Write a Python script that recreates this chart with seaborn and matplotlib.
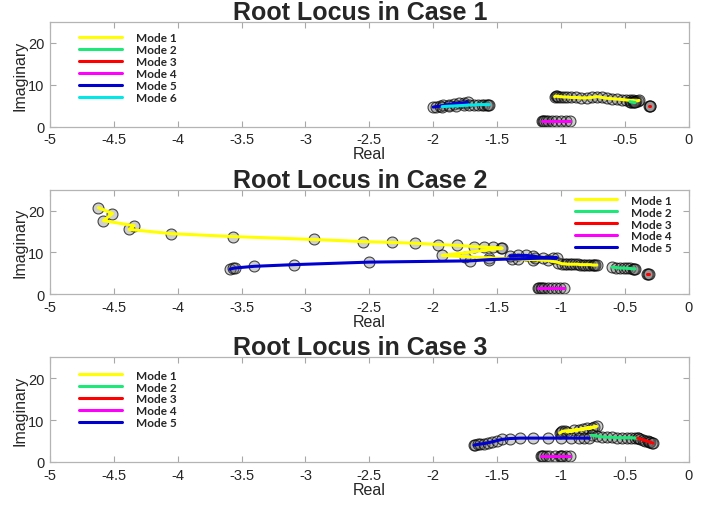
import pandas as pd
import matplotlib
matplotlib.use('Agg')
import matplotlib.pyplot as plt
import seaborn as sns

# ---- data (real part, imaginary part per mode) ----
modes = ['Mode 1', 'Mode 2', 'Mode 3', 'Mode 4', 'Mode 5', 'Mode 6']

# Case 1
c1_m1_re = [-1.05, -1.04, -1.03, -1.02, -1.00, -0.98, -0.95, -0.92, -0.88, -0.84, -0.80, -0.76, -0.72,
            -0.68, -0.64, -0.60, -0.56, -0.52, -0.49, -0.46, -0.44, -0.42, -0.41, -0.40, -0.39]
c1_m1_im = [7.2, 7.3, 7.3, 7.2, 7.2, 7.1, 7.1, 7.0, 7.0, 6.9, 6.9, 7.0, 7.2,
            7.0, 6.8, 6.7, 6.6, 6.5, 6.4, 6.3, 6.3, 6.2, 6.2, 6.2, 6.3]
c1_m2_re = [-0.46, -0.45, -0.44, -0.43, -0.42]
c1_m2_im = [6.0, 5.9, 5.9, 5.8, 5.8]
c1_m3_re = [-0.31, -0.30, -0.30]
c1_m3_im = [4.9, 4.9, 4.9]
c1_m4_re = [-1.15, -1.14, -1.13, -1.12, -1.10, -1.07, -1.04, -1.00, -0.96, -0.93]
c1_m4_im = [1.4, 1.4, 1.4, 1.4, 1.4, 1.4, 1.4, 1.4, 1.4, 1.4]
c1_m5_re = [-2.00, -1.98, -1.95, -1.92, -1.88, -1.84, -1.80, -1.76, -1.73]
c1_m5_im = [4.7, 4.8, 4.9, 5.1, 5.3, 5.5, 5.6, 5.7, 5.8]
c1_m6_re = [-1.93, -1.88, -1.82, -1.76, -1.72, -1.68, -1.65, -1.62, -1.60, -1.58, -1.57, -1.56]
c1_m6_im = [4.8, 4.9, 5.0, 5.1, 5.2, 5.2, 5.3, 5.3, 5.3, 5.3, 5.3, 5.3]

# Case 2
c2_m1_re = [-4.62, -4.51, -4.58, -4.34, -4.38, -4.05, -3.57, -2.93, -2.55, -2.32, -2.14, -1.96, -1.81, -1.68,
            -1.60, -1.53, -1.47, -1.46, -1.93, -1.75, -1.56, -1.38, -1.22, -1.10, -1.02, -0.99, -0.97, -0.95,
            -0.93, -0.91, -0.89, -0.87, -0.85, -0.83, -0.81, -0.79, -0.77, -0.75, -0.74, -0.73, -0.72]
c2_m1_im = [20.7, 19.3, 17.6, 16.4, 15.5, 14.5, 13.8, 13.1, 12.6, 12.4, 12.2, 11.9, 11.7, 11.4,
            11.3, 11.2, 11.1, 11.0, 9.3, 9.0, 8.7, 8.5, 8.3, 8.1, 7.6, 7.3, 7.3, 7.2,
            7.2, 7.2, 7.2, 7.2, 7.1, 7.1, 7.1, 7.1, 7.1, 7.0, 7.0, 7.0, 7.0]
c2_m2_re = [-0.60, -0.57, -0.54, -0.51, -0.48, -0.46, -0.44, -0.43, -0.42]
c2_m2_im = [6.5, 6.4, 6.3, 6.3, 6.2, 6.2, 6.1, 6.1, 6.1]
c2_m3_re = [-0.33, -0.32, -0.31]
c2_m3_im = [4.8, 4.8, 4.8]
c2_m4_re = [-1.18, -1.17, -1.16, -1.15, -1.13, -1.10, -1.07, -1.04, -1.01, -0.98]
c2_m4_im = [1.6, 1.6, 1.6, 1.6, 1.6, 1.6, 1.6, 1.6, 1.6, 1.6]
c2_m5_re = [-3.59, -3.57, -3.55, -3.40, -3.09, -2.50, -1.71, -1.56, -1.34, -1.20, -1.06, -1.03,
            -1.14, -1.22, -1.27, -1.34, -1.40]
c2_m5_im = [6.0, 6.2, 6.3, 6.7, 7.1, 7.7, 8.0, 8.3, 8.5, 8.6, 8.7, 8.7,
            8.8, 9.1, 9.3, 9.3, 9.2]

# Case 3
c3_m1_re = [-1.01, -1.00, -0.99, -0.97, -0.90, -0.80, -0.74, -0.72, -0.86, -0.95, -0.83, -0.76]
c3_m1_im = [6.9, 7.1, 7.3, 7.4, 7.6, 8.0, 8.3, 8.5, 7.7, 7.2, 7.9, 8.2]
c3_m2_re = [-0.76, -0.72, -0.68, -0.64, -0.60, -0.56, -0.52, -0.48, -0.45, -0.42, -0.40]
c3_m2_im = [6.4, 6.2, 6.0, 5.9, 5.9, 5.8, 5.8, 5.8, 5.8, 5.7, 5.7]
c3_m3_re = [-0.40, -0.38, -0.36, -0.34, -0.32, -0.31, -0.30, -0.29, -0.28]
c3_m3_im = [5.7, 5.5, 5.3, 5.1, 4.9, 4.8, 4.7, 4.6, 4.5]
c3_m4_re = [-1.16, -1.15, -1.14, -1.12, -1.09, -1.05, -1.01, -1.00, -0.99, -0.96, -0.93]
c3_m4_im = [1.4, 1.4, 1.4, 1.4, 1.4, 1.4, 1.4, 1.4, 1.4, 1.4, 1.4]
c3_m5_re = [-1.68, -1.67, -1.65, -1.63, -1.60, -1.57, -1.54, -1.50, -1.46, -1.40, -1.32, -1.22,
            -1.10, -1.00, -0.92, -0.86, -0.82, -0.78]
c3_m5_im = [4.0, 4.1, 4.2, 4.3, 4.4, 4.6, 4.8, 5.1, 5.4, 5.6, 5.7, 5.7,
            5.7, 5.7, 5.7, 5.7, 5.7, 5.7]

cases = [
    ('Root Locus in Case 1', [(c1_m1_re, c1_m1_im), (c1_m2_re, c1_m2_im), (c1_m3_re, c1_m3_im),
                              (c1_m4_re, c1_m4_im), (c1_m5_re, c1_m5_im), (c1_m6_re, c1_m6_im)]),
    ('Root Locus in Case 2', [(c2_m1_re, c2_m1_im), (c2_m2_re, c2_m2_im), (c2_m3_re, c2_m3_im),
                              (c2_m4_re, c2_m4_im), (c2_m5_re, c2_m5_im)]),
    ('Root Locus in Case 3', [(c3_m1_re, c3_m1_im), (c3_m2_re, c3_m2_im), (c3_m3_re, c3_m3_im),
                              (c3_m4_re, c3_m4_im), (c3_m5_re, c3_m5_im)]),
]

x_ticks = [-5, -4.5, -4, -3.5, -3, -2.5, -2, -1.5, -1, -0.5, 0]
x_tick_labels = ['-5', '-4.5', '-4', '-3.5', '-3', '-2.5', '-2', '-1.5', '-1', '-0.5', '0']
y_ticks = [0, 10, 20]

# styles
mode_colors = ['#ffff00', '#1ee878', '#ff0000', '#ff00ff', '#0000d0', '#00e8e8']
legend_pos = [('upper left', (0.035, 0.97)), ('upper right', (0.985, 1.02)), ('upper left', (0.035, 0.95))]

sns.set_style('white')
plt.rcParams['font.family'] = ['Liberation Sans', 'DejaVu Sans']

fig, axes = plt.subplots(3, 1, figsize=(7.22, 5.06), dpi=100)
fig.subplots_adjust(left=0.069, right=0.954, top=0.9545, bottom=0.085, hspace=0.6)

for ax, (title, data), (loc, anchor) in zip(axes, cases, legend_pos):
    for i, (re_vals, im_vals) in enumerate(data):
        df = pd.DataFrame({'re': re_vals, 'im': im_vals})
        sns.scatterplot(data=df, x='re', y='im', ax=ax, s=62, marker='o',
                        facecolor=(0.4, 0.4, 0.4, 0.3), edgecolor=(0, 0, 0, 0.7),
                        linewidth=0.8, legend=False, zorder=2)
        sns.lineplot(data=df, x='re', y='im', ax=ax, sort=False, estimator=None,
                     color=mode_colors[i], linewidth=2.2, label=modes[i], zorder=3)
    lines = ax.get_lines()
    ax.legend(handles=lines, labels=modes[:len(data)], loc=loc, bbox_to_anchor=anchor,
              frameon=False, prop={'family': 'Lato', 'weight': 'bold', 'size': 8.5},
              handlelength=3.6, handletextpad=1.2, labelspacing=0.08, borderaxespad=0.2)

    ax.set_xlim(-5, 0)
    ax.set_ylim(0, 25)
    ax.set_xticks(x_ticks)
    ax.set_xticklabels(x_tick_labels)
    ax.set_yticks(y_ticks)
    ax.set_title(title, fontsize=18, fontweight='bold', pad=2, x=0.486)
    ax.set_xlabel('Real', fontsize=11.5, labelpad=0)
    ax.set_ylabel('Imaginary', fontsize=11.5, labelpad=0)
    ax.tick_params(direction='in', length=4, width=0.8, color='#a8a8a8',
                   labelsize=10.5, labelcolor='#262626', bottom=True, left=True,
                   top=True, right=True, pad=4)
    for sp in ax.spines.values():
        sp.set_color('#b4b4b4')
        sp.set_linewidth(0.9)

fig.savefig('out.png', dpi=100)
